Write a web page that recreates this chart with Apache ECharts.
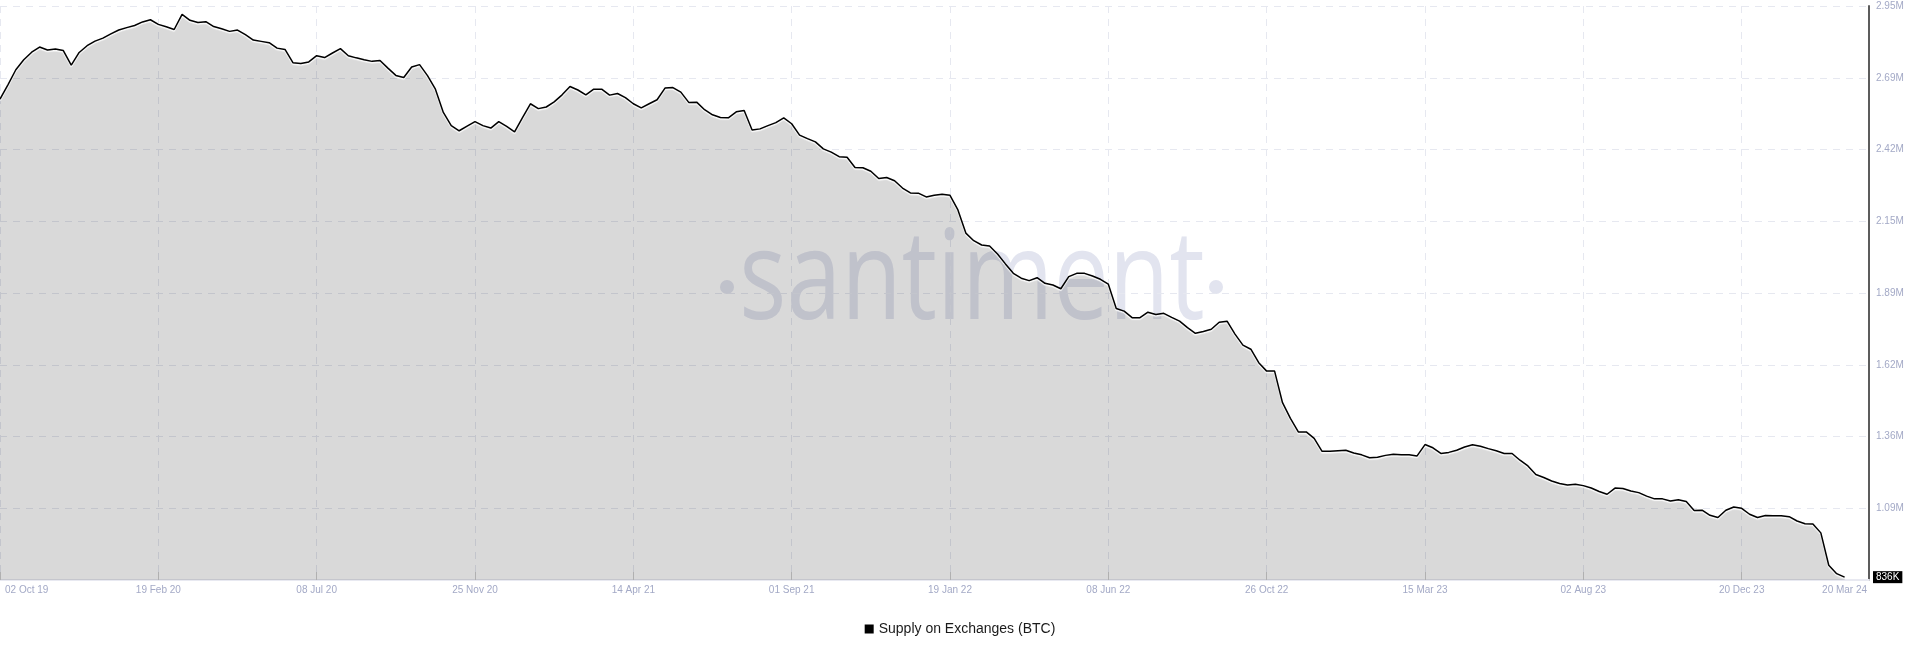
<!DOCTYPE html>
<html>
<head>
<meta charset="utf-8">
<script src="https://cdn.jsdelivr.net/npm/echarts@6/dist/echarts.min.js"></script>
<style>
html,body{margin:0;padding:0;background:#fff;}
#chart{width:1920px;height:650px;}
</style>
</head>
<body>
<div id="chart"></div>
<script>
// Weekly samples starting 02 Oct 2019, values in BTC
const startDate = '2019-10-02';
const stepDays = 7;
const supplyK = [
  2606, 2659, 2715, 2752, 2780, 2799, 2788, 2792, 2786, 2732,
  2779, 2804, 2821, 2832, 2848, 2862, 2871, 2879, 2892, 2900,
  2883, 2874, 2864, 2920, 2898, 2890, 2893, 2875, 2867, 2857,
  2862, 2845, 2825, 2820, 2815, 2795, 2790, 2741, 2738, 2744,
  2767, 2760, 2777, 2793, 2767, 2759, 2752, 2746, 2749, 2721,
  2694, 2686, 2725, 2734, 2693, 2643, 2557, 2508, 2489, 2506,
  2523, 2508, 2499, 2523, 2505, 2485, 2538, 2589, 2571, 2577,
  2596, 2622, 2653, 2640, 2622, 2643, 2643, 2621, 2627, 2612,
  2589, 2574, 2589, 2604, 2647, 2649, 2632, 2594, 2595, 2567,
  2548, 2538, 2537, 2559, 2564, 2492, 2496, 2508, 2519, 2537,
  2515, 2473, 2460, 2448, 2422, 2410, 2393, 2391, 2353, 2352,
  2339, 2312, 2316, 2304, 2277, 2259, 2258, 2244, 2250, 2254,
  2250, 2196, 2110, 2082, 2066, 2062, 2033, 1996, 1961, 1943,
  1934, 1945, 1924, 1918, 1904, 1949, 1961, 1961, 1951, 1939,
  1921, 1831, 1821, 1797, 1797, 1817, 1809, 1813, 1798, 1784,
  1760, 1739, 1746, 1754, 1780, 1784, 1736, 1695, 1680, 1630,
  1599, 1599, 1482, 1424, 1374, 1374, 1350, 1302, 1302, 1304,
  1306, 1296, 1289, 1278, 1280, 1287, 1291, 1289, 1289, 1285,
  1327, 1315, 1294, 1298, 1306, 1318, 1326, 1321, 1312, 1304,
  1294, 1294, 1269, 1248, 1216, 1205, 1192, 1183, 1177, 1180,
  1175, 1166, 1153, 1143, 1166, 1164, 1155, 1149, 1136, 1126,
  1126, 1118, 1123, 1116, 1083, 1084, 1065, 1057, 1084, 1096,
  1091, 1069, 1057, 1064, 1063, 1063, 1060, 1044, 1034, 1033,
  1000, 880, 849, 836
];
const xTickDates = ['2019-10-02','2020-02-19','2020-07-08','2020-11-25','2021-04-14','2021-09-01',
  '2022-01-19','2022-06-08','2022-10-26','2023-03-15','2023-08-02','2023-12-20'];
const xLastLabelDate = '2024-03-20';
const xAxisEndDate = '2024-04-10T14:00:00Z';
const yMin = 825500;
const yMax = 2951000;
const yTicks = [1091200, 1356900, 1622500, 1888200, 2153900, 2419600, 2685300, 2951000];
const seriesName = 'Supply on Exchanges (BTC)';

const DAY = 86400000;
const t0 = Date.parse(startDate + 'T00:00:00Z');
const data = supplyK.map((v, i) => [t0 + i * stepDays * DAY, v * 1000]);
const tickVals = xTickDates.map(d => Date.parse(d + 'T00:00:00Z'));
const labelVals = tickVals.concat([Date.parse(xLastLabelDate + 'T00:00:00Z')]);
const months = ['Jan','Feb','Mar','Apr','May','Jun','Jul','Aug','Sep','Oct','Nov','Dec'];
function fmtDate(v) {
  const d = new Date(v);
  const dd = String(d.getUTCDate()).padStart(2, '0');
  return dd + ' ' + months[d.getUTCMonth()] + ' ' + String(d.getUTCFullYear()).slice(2);
}
const lastVal = supplyK[supplyK.length - 1] * 1000;

const chart = echarts.init(document.getElementById('chart'));
const labelColor = '#a3a9c6';
const gridColor = '#e6e8f0';
chart.setOption({
  animation: false,
  backgroundColor: '#fff',
  textStyle: { fontFamily: 'Liberation Sans, Arial, sans-serif' },
  grid: { left: 0, right: 51, top: 6, bottom: 70, containLabel: false },
  graphic: [
    {
      type: 'text', z: -1,
      x: 972, y: 283, scaleX: 0.79, scaleY: 1,
      style: {
        text: 'santiment',
        font: '400 125px "Open Sans"',
        fill: '#e2e4ef',
        textAlign: 'center',
        textVerticalAlign: 'middle'
      }
    },
    { type: 'circle', z: -1, shape: { cx: 727, cy: 287, r: 7 }, style: { fill: '#e2e4ef' } },
    { type: 'circle', z: -1, shape: { cx: 1216, cy: 287, r: 7 }, style: { fill: '#e2e4ef' } }
  ],
  legend: {
    left: 'center', top: 617,
    icon: 'rect', itemWidth: 9, itemHeight: 9,
    textStyle: { fontSize: 14, color: '#1a1a1a', fontFamily: 'Liberation Sans, Arial, sans-serif' },
    data: [seriesName]
  },
  xAxis: {
    type: 'value',
    min: t0,
    max: Date.parse(xAxisEndDate),
    axisLine: { show: true, onZero: false, lineStyle: { color: '#e8e9f1', width: 2 } },
    axisTick: { show: true, inside: true, length: 8, lineStyle: { color: '#cfcfcf', width: 1 }, customValues: tickVals },
    axisLabel: {
      customValues: labelVals,
      color: labelColor, fontSize: 10, margin: 5,
      alignMinLabel: 'left',
      formatter: function (v) {
        if (v === t0) return '{f|' + fmtDate(v) + '}';
        return fmtDate(v);
      },
      rich: { f: { padding: [0, 0, 0, 5], color: labelColor, fontSize: 10 } }
    },
    splitLine: { show: true, lineStyle: { color: gridColor, type: [7, 6], width: 1 } }
  },
  yAxis: {
    type: 'value',
    position: 'right',
    min: yMin, max: yMax,
    axisLine: { show: true, lineStyle: { color: '#5c5c5c', width: 2 } },
    axisTick: { show: false, customValues: yTicks },
    axisLabel: {
      customValues: yTicks,
      color: labelColor, fontSize: 10, margin: 7,
      formatter: v => (v / 1e6).toFixed(2) + 'M'
    },
    splitLine: { show: true, lineStyle: { color: gridColor, type: [7, 6], width: 1 } }
  },
  series: [{
    name: seriesName,
    type: 'line',
    data: data,
    showSymbol: false,
    symbol: 'none',
    itemStyle: { color: '#000' },
    lineStyle: { color: '#000', width: 1.5, shadowColor: 'rgba(255,255,255,0.95)', shadowBlur: 1, shadowOffsetY: 1.5 },
    areaStyle: { color: 'rgba(0,0,0,0.15)', opacity: 1, origin: 'start' },
    emphasis: { disabled: true },
    markLine: {
      silent: true,
      symbol: 'none',
      animation: false,
      lineStyle: { color: 'rgba(0,0,0,0)', width: 0, type: 'solid' },
      label: {
        show: true, position: 'end', distance: 4,
        formatter: () => Math.round(lastVal / 1000) + 'K',
        backgroundColor: '#000', color: '#fff', fontSize: 10, padding: [1, 3, 1, 3]
      },
      data: [{ yAxis: lastVal }]
    }
  }]
});
</script>
</body>
</html>
